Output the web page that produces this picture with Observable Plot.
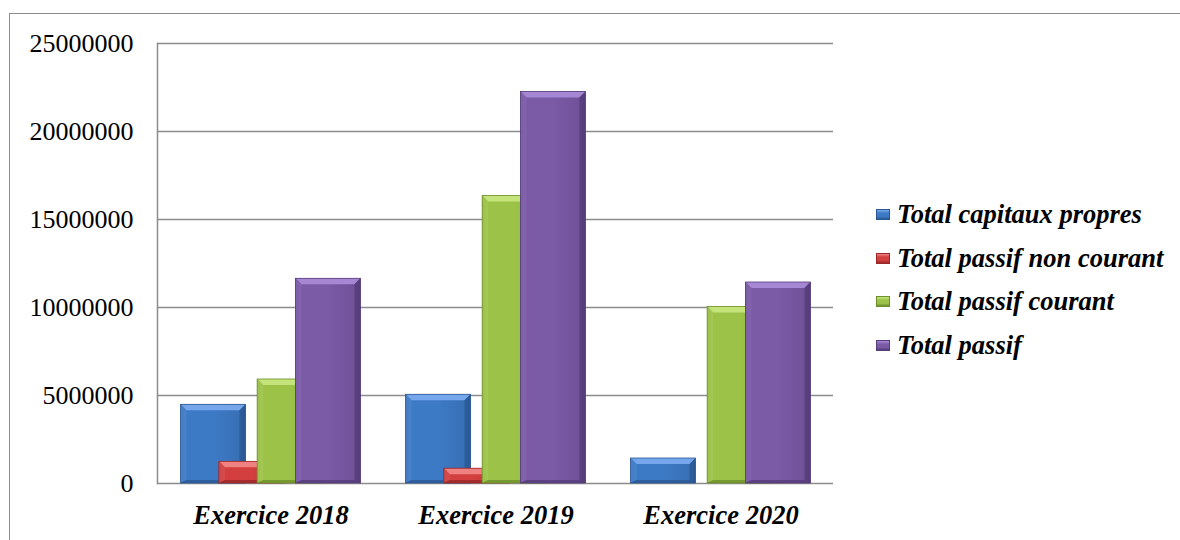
<!DOCTYPE html>
<html>
<head>
<meta charset="utf-8">
<script src="https://cdn.jsdelivr.net/npm/d3@7"></script>
<script src="https://cdn.jsdelivr.net/npm/@observablehq/plot@0.6"></script>
<style>
  html, body { margin: 0; padding: 0; background: #fff; }
  #page { position: relative; width: 1180px; height: 540px; overflow: hidden; background: #fff; }
  #page svg { position: absolute; left: 0; top: 0; }
  #border { position: absolute; left: 9px; top: 13px; width: 1300px; height: 700px;
            border-left: 1.5px solid #8c8c8c; border-top: 1.5px solid #8c8c8c; pointer-events: none; }
  #legend { position: absolute; left: 876px; top: 193px; font-family: "Liberation Serif", "Times New Roman", serif;
            font-size: 26.5px; font-weight: bold; font-style: italic; color: #000; }
  #legend .row { display: flex; align-items: center; height: 43.5px; white-space: nowrap; }
  #legend .sw { width: 14px; height: 11px; margin-right: 7px; margin-top: 0px; box-sizing: border-box; }
</style>
</head>
<body>
<div id="page">
  <div id="legend"></div>
  <div id="border"></div>
</div>
<script>
// Exercices (categories) and the four balance-sheet series
const categories = ["Exercice 2018", "Exercice 2019", "Exercice 2020"];
const series = ["Total capitaux propres", "Total passif non courant", "Total passif courant", "Total passif"];

const capitauxPropres = [4470000, 5040000, 1420000];
const passifNonCourant = [1230000, 840000, 0];
const passifCourant = [5910000, 16340000, 10030000];
const totalPassif = [11630000, 22250000, 11420000];

const yTicks = [0, 5000000, 10000000, 15000000, 20000000, 25000000];

// base / light / dark tones for the bevelled bars
const palette = [
  {base: "#3d7ac6", light: "#79aaee", dark: "#2b5894"},
  {base: "#d33e3e", light: "#f08585", dark: "#9a2828"},
  {base: "#9cc348", light: "#c6e57e", dark: "#6e8f2c"},
  {base: "#7b5aa6", light: "#a98ad6", dark: "#553c7a"}
];

const values = [capitauxPropres, passifNonCourant, passifCourant, totalPassif];
const table = categories.flatMap((c, i) =>
  series.map((s, j) => ({category: c, series: s, value: values[j][i]}))
);

const step = 38.3;       // horizontal shift between overlapping bars of a group
const barWidth = 64.7;
const bandStep = (833 - 157) / categories.length;
const padInner = 1 - barWidth / bandStep;

const chart = Plot.plot({
  width: 1180,
  height: 540,
  marginLeft: 157,
  marginRight: 347,
  marginTop: 43,
  marginBottom: 57,
  style: {background: "transparent", color: "#000", fontFamily: "Liberation Serif, Times New Roman, serif", overflow: "visible"},
  x: {domain: categories, paddingInner: padInner, paddingOuter: padInner / 2, label: null},
  y: {domain: [0, 25000000], label: null},
  marks: [
    Plot.gridY(yTicks, {stroke: "#8c8c8c", strokeOpacity: 1, strokeWidth: 1.5}),
    Plot.frame({anchor: "left", stroke: "#8c8c8c", strokeWidth: 1.5}),
    ...series.map((s, j) =>
      Plot.barY(table.filter(d => d.series === s && d.value > 0), {
        x: "category",
        y: "value",
        fill: `url(#grad${j})`,
        dx: (j - 1.5) * step,
        className: `bars-${j}`
      })
    ),
    Plot.axisY(yTicks, {tickSize: 0, tickPadding: 24, fontSize: 26, tickFormat: d => String(d), label: null}),
    Plot.axisX({tickSize: 0, tickPadding: 22, fontSize: 26.5, fontWeight: "bold", fontStyle: "italic", label: null})
  ]
});

// gradients used by the bar fills
const svg = d3.select(chart);
const defs = svg.insert("defs", ":first-child");
palette.forEach((p, j) => {
  const g = defs.append("linearGradient").attr("id", `grad${j}`).attr("x1", "0").attr("x2", "1").attr("y1", "0").attr("y2", "0");
  g.append("stop").attr("offset", "0%").attr("stop-color", p.dark);
  g.append("stop").attr("offset", "10%").attr("stop-color", p.base);
  g.append("stop").attr("offset", "50%").attr("stop-color", p.base);
  g.append("stop").attr("offset", "90%").attr("stop-color", d3.color(p.base).darker(0.25));
  g.append("stop").attr("offset", "100%").attr("stop-color", p.dark);
});

// bevel facets laid over each rendered bar
const ns = "http://www.w3.org/2000/svg";
palette.forEach((p, j) => {
  svg.selectAll(`.bars-${j} rect`).each(function() {
    const x = +this.getAttribute("x"), y = +this.getAttribute("y");
    const w = +this.getAttribute("width"), h = +this.getAttribute("height");
    const b = Math.min(6, h / 2.5, w / 4);
    const faces = [
      {pts: [[x, y], [x + w, y], [x + w - b, y + b], [x + b, y + b]], fill: p.light, op: 0.95},
      {pts: [[x, y], [x + b, y + b], [x + b, y + h - b * 0.5], [x, y + h]], fill: d3.interpolateRgb(p.base, p.light)(0.25), op: 0.8},
      {pts: [[x + w, y], [x + w, y + h], [x + w - b, y + h - b * 0.5], [x + w - b, y + b]], fill: p.dark, op: 0.75},
      {pts: [[x, y + h], [x + b, y + h - b * 0.5], [x + w - b, y + h - b * 0.5], [x + w, y + h]], fill: p.dark, op: 0.8}
    ];
    let after = this.nextSibling;
    const parent = this.parentNode;
    faces.forEach(f => {
      const poly = document.createElementNS(ns, "polygon");
      poly.setAttribute("points", f.pts.map(q => q.join(",")).join(" "));
      poly.setAttribute("fill", f.fill);
      poly.setAttribute("fill-opacity", f.op);
      parent.insertBefore(poly, after);
    });
    const outline = document.createElementNS(ns, "rect");
    ["x", "y", "width", "height"].forEach(a => outline.setAttribute(a, this.getAttribute(a)));
    outline.setAttribute("fill", "none");
    outline.setAttribute("stroke", p.dark);
    outline.setAttribute("stroke-width", "0.8");
    parent.insertBefore(outline, after);
  });
});

const page = document.getElementById("page");
page.insertBefore(chart, page.firstChild);

// legend to the right of the plot
const legend = d3.select("#legend");
series.forEach((s, j) => {
  const row = legend.append("div").attr("class", "row");
  const p = palette[j];
  row.append("div").attr("class", "sw")
    .style("background", `linear-gradient(to bottom, ${p.light} 0%, ${p.base} 35%, ${p.base} 70%, ${p.dark} 100%)`)
    .style("border", `1px solid ${p.dark}`);
  row.append("span").text(s);
});
</script>
</body>
</html>
